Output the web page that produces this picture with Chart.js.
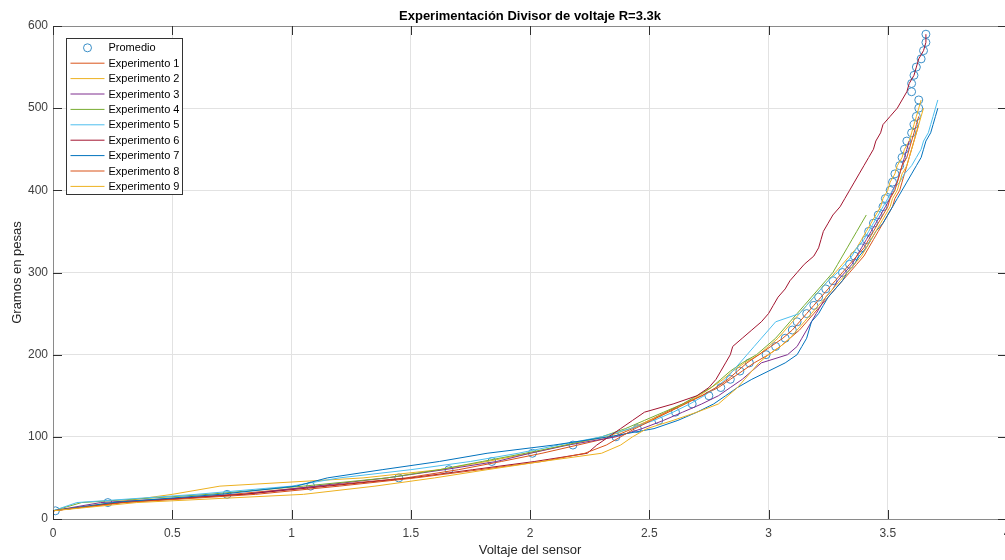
<!DOCTYPE html>
<html>
<head>
<meta charset="utf-8">
<script src="https://cdn.jsdelivr.net/npm/chart.js@4"></script>
<style>
  html, body { margin: 0; padding: 0; background: #fff; overflow: hidden; }
  #wrap { width: 1060px; height: 560px; position: relative; }
</style>
</head>
<body>
<div id="wrap"><canvas id="chart"></canvas></div>
<script>
// pesos (g) y voltajes
const pesos = [10, 20, 30, 40, 50, 60, 70, 80, 90, 100,
  110, 120, 130, 140, 150, 160, 170, 180, 190, 200,
  210, 220, 230, 240, 250, 260, 270, 280, 290, 300,
  310, 320, 330, 340, 350, 360, 370, 380, 390, 400,
  410, 420, 430, 440, 450, 460, 470, 480, 490, 500,
  510, 520, 530, 540, 550, 560, 570, 580, 590]

const promedio = [0.01, 0.23, 0.73, 1.08, 1.45, 1.66, 1.84, 2.01, 2.18, 2.36,
  2.45, 2.54, 2.61, 2.68, 2.75, 2.80, 2.84, 2.88, 2.92, 2.99,
  3.03, 3.07, 3.10, 3.12, 3.16, 3.19, 3.21, 3.24, 3.27, 3.31,
  3.34, 3.36, 3.39, 3.41, 3.42, 3.44, 3.46, 3.48, 3.49, 3.51,
  3.52, 3.53, 3.55, 3.56, 3.57, 3.58, 3.60, 3.61, 3.62, 3.63,
  3.63, 3.60, 3.60, 3.61, 3.62, 3.64, 3.65, 3.66, 3.66]

const exp1 = [0.00, 0.28, 0.75, 1.12, 1.48, 1.70, 1.88, 2.05, 2.20, 2.35,
  2.43, 2.50, 2.57, 2.64, 2.72, 2.79, 2.84, 2.89, 2.94, 3.00,
  3.05, 3.09, 3.13, 3.16, 3.19, 3.22, 3.25, 3.28, 3.31, 3.34,
  3.37, 3.40, 3.42, 3.44, 3.46, 3.48, 3.50, 3.52, 3.53, 3.55,
  3.56, 3.57, 3.58, 3.59, 3.60, 3.61, 3.62, 3.63]
const exp2 = [0.00, 0.25, 0.50, 0.70, 1.30, 1.62, 1.82, 2.00, 2.15, 2.32,
  2.42, 2.50, 2.58, 2.65, 2.71, 2.76, 2.81, 2.85, 2.90, 2.96,
  3.00, 3.04, 3.07, 3.10, 3.13, 3.16, 3.19, 3.22, 3.25, 3.28,
  3.31, 3.34, 3.37, 3.39, 3.41, 3.43, 3.45, 3.47, 3.48, 3.50,
  3.51, 3.53, 3.54, 3.56, 3.57, 3.59, 3.60, 3.61, 3.62, 3.63,
  3.64]
const exp3 = [0.00, 0.20, 0.80, 1.10, 1.40, 1.64, 1.86, 2.00, 2.16, 2.36,
  2.47, 2.56, 2.64, 2.72, 2.79, 2.84, 2.89, 2.93, 2.97, 3.08,
  3.12, 3.14, 3.16, 3.18, 3.20, 3.22, 3.24, 3.27, 3.29, 3.32,
  3.35, 3.37, 3.39, 3.41, 3.43, 3.45, 3.47, 3.49, 3.51, 3.52,
  3.54, 3.55, 3.56, 3.57, 3.58, 3.59]
const exp4 = [0.00, 0.12, 0.65, 1.05, 1.40, 1.62, 1.80, 1.98, 2.15, 2.30,
  2.40, 2.48, 2.56, 2.64, 2.70, 2.76, 2.80, 2.84, 2.89, 2.95,
  2.99, 3.03, 3.06, 3.09, 3.12, 3.15, 3.18, 3.21, 3.24, 3.27,
  3.29, 3.31, 3.33, 3.35, 3.37, 3.39, 3.41]
const exp5 = [0.00, 0.10, 0.60, 1.00, 1.20, 1.50, 1.75, 1.95, 2.12, 2.30,
  2.42, 2.52, 2.60, 2.67, 2.73, 2.78, 2.82, 2.85, 2.88, 2.91,
  2.94, 2.97, 3.00, 3.03, 3.13, 3.16, 3.19, 3.22, 3.25, 3.29,
  3.32, 3.35, 3.37, 3.40, 3.42, 3.44, 3.46, 3.48, 3.50, 3.52,
  3.55, 3.57, 3.60, 3.62, 3.64, 3.65, 3.67, 3.68, 3.69, 3.70,
  3.71]
const exp6 = [0.00, 0.28, 0.80, 1.15, 1.50, 1.76, 2.02, 2.24, 2.28, 2.33,
  2.38, 2.43, 2.48, 2.60, 2.70, 2.75, 2.78, 2.80, 2.82, 2.84,
  2.85, 2.89, 2.93, 2.97, 3.00, 3.02, 3.04, 3.07, 3.09, 3.12,
  3.15, 3.19, 3.21, 3.22, 3.23, 3.25, 3.27, 3.30, 3.32, 3.34,
  3.36, 3.38, 3.40, 3.42, 3.44, 3.45, 3.47, 3.48, 3.51, 3.54,
  3.56, 3.58, 3.59, 3.61, 3.62, 3.63, 3.65, 3.66, 3.66]
const exp7 = [0.00, 0.25, 0.70, 1.02, 1.15, 1.38, 1.62, 1.82, 2.10, 2.33,
  2.52, 2.62, 2.70, 2.77, 2.82, 2.87, 2.93, 3.00, 3.07, 3.12,
  3.14, 3.16, 3.17, 3.18, 3.21, 3.23, 3.25, 3.28, 3.31, 3.33,
  3.36, 3.38, 3.41, 3.43, 3.45, 3.48, 3.50, 3.52, 3.54, 3.56,
  3.58, 3.60, 3.62, 3.64, 3.65, 3.66, 3.68, 3.69, 3.70, 3.71]
const exp8 = [0.00, 0.30, 0.85, 1.20, 1.52, 1.79, 2.05, 2.23, 2.32, 2.38,
  2.44, 2.51, 2.58, 2.65, 2.72, 2.78, 2.83, 2.87, 2.91, 2.96,
  3.01, 3.06, 3.10, 3.13, 3.16, 3.19, 3.22, 3.25, 3.28, 3.31,
  3.34, 3.37, 3.40, 3.42, 3.44, 3.46, 3.48, 3.50, 3.51, 3.53,
  3.54, 3.55, 3.56, 3.58, 3.59, 3.60, 3.61, 3.62, 3.63]
const exp9 = [0.00, 0.35, 1.05, 1.35, 1.60, 1.82, 2.05, 2.30, 2.38, 2.43,
  2.49, 2.60, 2.70, 2.79, 2.83, 2.87, 2.90, 2.93, 2.96, 3.00,
  3.05, 3.09, 3.12, 3.15, 3.18, 3.21, 3.24, 3.27, 3.30, 3.33,
  3.36, 3.39, 3.41, 3.43, 3.45, 3.47, 3.49, 3.51, 3.52, 3.54,
  3.55, 3.56, 3.58, 3.59, 3.60, 3.61, 3.62, 3.63, 3.64, 3.65]

const experimentos = [exp1, exp2, exp3, exp4, exp5, exp6, exp7, exp8, exp9]
const colores = ['#D95319', '#EDB120', '#7E2F8E', '#77AC30', '#4DBEEE',
  '#A2142F', '#0072BD', '#D95319', '#EDB120']
const xTicks = [0, 0.5, 1, 1.5, 2, 2.5, 3, 3.5, 4]
const yTicks = [0, 100, 200, 300, 400, 500, 600]
const titulo = 'Experimentación Divisor de voltaje R=3.3k'

const FONT = '"Liberation Sans", Arial, Helvetica, sans-serif'

function toPoints(volts) {
  return volts.map((v, i) => ({ x: v, y: pesos[i] }))
}

const datasets = [{
  label: 'Promedio',
  data: toPoints(promedio),
  showLine: false,
  pointStyle: 'circle',
  pointRadius: 4,
  pointHoverRadius: 4,
  pointBorderWidth: 1,
  borderColor: '#3a8fc8',
  backgroundColor: 'rgba(0,0,0,0)',
  order: 10,
}]
experimentos.forEach((e, i) => {
  datasets.push({
    label: 'Experimento ' + (i + 1),
    data: toPoints(e),
    showLine: true,
    borderColor: colores[i],
    backgroundColor: colores[i],
    borderWidth: 1,
    pointRadius: 0,
    tension: 0,
    order: 9 - i,
  })
})

// caja de ejes con marcas hacia adentro (estilo MATLAB)
const frame = {
  id: 'frame',
  afterDatasetsDraw(chart) {
    const { ctx, chartArea: a, scales: { x, y } } = chart
    ctx.save()
    ctx.lineWidth = 1
    ctx.strokeStyle = '#8a8a8a'
    ctx.strokeRect(Math.round(a.left) + 0.5, Math.round(a.top) + 0.5,
      Math.round(a.right - a.left), Math.round(a.bottom - a.top))
    ctx.strokeStyle = '#303030'
    ctx.beginPath()
    xTicks.forEach(t => {
      const px = Math.round(x.getPixelForValue(t)) + 0.5
      ctx.moveTo(px, a.bottom); ctx.lineTo(px, a.bottom - 9)
      ctx.moveTo(px, a.top); ctx.lineTo(px, a.top + 9)
    })
    yTicks.forEach(t => {
      const py = Math.round(y.getPixelForValue(t)) + 0.5
      ctx.moveTo(a.left, py); ctx.lineTo(a.left + 9, py)
      ctx.moveTo(a.right, py); ctx.lineTo(a.right - 9, py)
    })
    ctx.stroke()
    ctx.restore()
  }
}

// titulo centrado sobre el area de ejes, y leyenda arriba a la izquierda
const legendBox = {
  id: 'legendBox',
  afterDraw(chart) {
    const { ctx, chartArea: a } = chart
    ctx.save()
    ctx.fillStyle = '#000'
    ctx.font = 'bold 13px ' + FONT
    ctx.textAlign = 'center'
    ctx.textBaseline = 'middle'
    ctx.fillText(titulo, (a.left + a.right) / 2, 16)

    const left = Math.round(a.left) + 13.5
    const top = Math.round(a.top) + 12.5
    const w = 116, h = 156, row = 15.4
    ctx.fillStyle = '#fff'
    ctx.fillRect(left, top, w, h)
    ctx.strokeStyle = '#333'
    ctx.lineWidth = 1
    ctx.strokeRect(left, top, w, h)
    ctx.font = '11px ' + FONT
    ctx.textAlign = 'left'
    chart.data.datasets.forEach((ds, i) => {
      const cy = top + 9.3 + i * row
      ctx.strokeStyle = ds.borderColor
      if (ds.showLine) {
        ctx.beginPath()
        ctx.moveTo(left + 4, cy); ctx.lineTo(left + 38, cy)
        ctx.stroke()
      } else {
        ctx.beginPath()
        ctx.arc(left + 21, cy, 4, 0, Math.PI * 2)
        ctx.stroke()
      }
      ctx.fillStyle = '#000'
      ctx.fillText(ds.label, left + 42, cy + 0.5)
    })
    ctx.restore()
  }
}

new Chart(document.getElementById('chart'), {
  type: 'scatter',
  data: { datasets: datasets },
  plugins: [frame, legendBox],
  options: {
    responsive: true,
    maintainAspectRatio: false,
    animation: false,
    layout: { padding: { left: 0, right: 53, top: 26, bottom: 0 } },
    plugins: {
      legend: { display: false },
      tooltip: { enabled: false },
      title: { display: false },
    },
    scales: {
      x: {
        type: 'linear',
        min: 0,
        max: 4,
        afterFit(scale) { scale.height = 41 },
        afterBuildTicks(scale) { scale.ticks = xTicks.map(v => ({ value: v })) },
        grid: { color: '#e2e2e2', drawTicks: false },
        border: { display: false },
        ticks: {
          padding: 7,
          color: '#404040',
          font: { family: FONT, size: 12 },
          maxRotation: 0,
          callback: v => String(v),
        },
        title: {
          display: true,
          text: 'Voltaje del sensor',
          color: '#262626',
          font: { family: FONT, size: 13 },
          padding: { top: 0, bottom: 2 },
        },
      },
      y: {
        type: 'linear',
        min: 0,
        max: 600,
        afterFit(scale) { scale.width = 53 },
        afterBuildTicks(scale) { scale.ticks = yTicks.map(v => ({ value: v })) },
        grid: { color: '#e2e2e2', drawTicks: false },
        border: { display: false },
        ticks: {
          padding: 5,
          color: '#404040',
          font: { family: FONT, size: 12 },
          callback: v => String(v),
        },
        title: {
          display: true,
          text: 'Gramos en pesas',
          color: '#262626',
          font: { family: FONT, size: 13 },
          padding: { top: 10, bottom: 0 },
        },
      },
    },
  },
})
</script>
</body>
</html>
